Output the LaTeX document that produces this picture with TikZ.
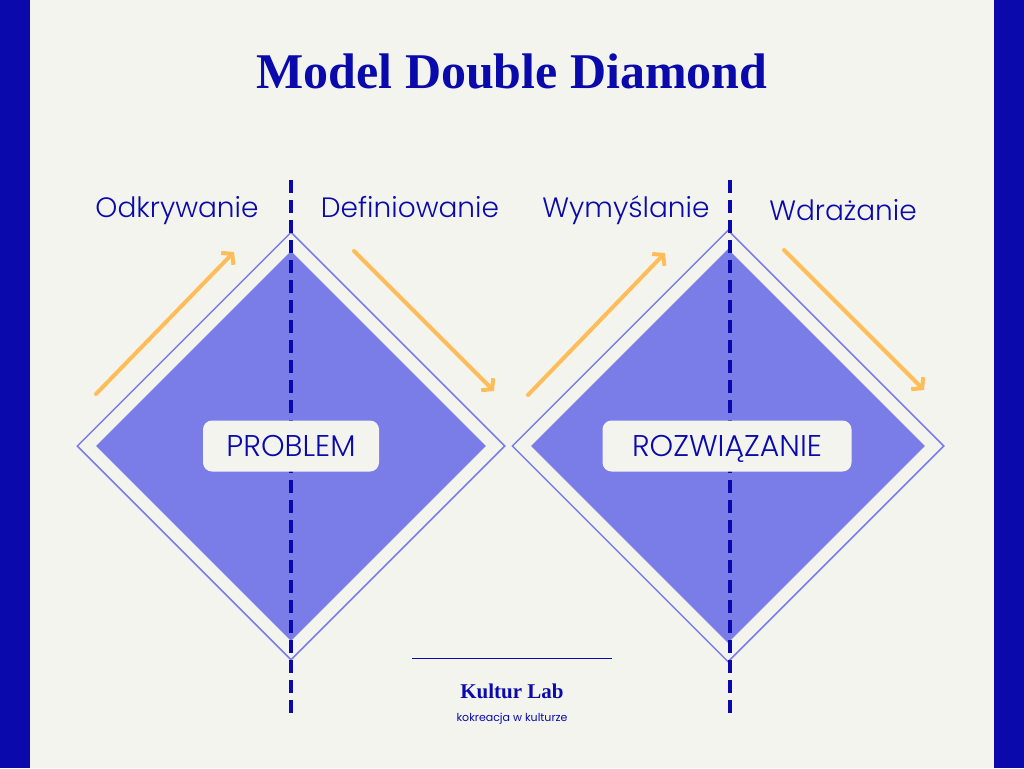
\documentclass[tikz,border=0pt]{standalone}
\usepackage{fontspec}
\setmainfont{Poppins}
\IfFontExistsTF{Poppins Light}
  {\newfontfamily\phasefont{Poppins Light}}
  {\newfontfamily\phasefont{Poppins}}
\newfontfamily\titlefont{Liberation Serif}
\usetikzlibrary{arrows.meta,shapes.geometric,positioning,calc}
\definecolor{bg}{RGB}{244,244,239}
\definecolor{navy}{RGB}{10,10,172}
\definecolor{dfill}{RGB}{122,125,232}
\definecolor{dline}{RGB}{122,125,232}
\definecolor{arrc}{RGB}{255,189,89}
\tikzset{
  dmd/.style={diamond,aspect=1,inner sep=0pt,minimum width=#1,minimum height=#1},
  outerd/.style={dmd=#1,draw=dline,line width=1.5pt},
  innerd/.style={dmd=#1,fill=dfill},
  lbl/.style={text=navy,anchor=base,inner sep=0pt,
    font=\phasefont\fontsize{28}{32}\selectfont},
  tag/.style={rectangle,rounded corners=9pt,fill=bg,text=navy,
    minimum width=#1,minimum height=51pt,inner sep=0pt,
    text height=21pt,text depth=0pt,
    font=\phasefont\fontsize{30}{34}\selectfont},
  tag/.default=176pt,
  arr/.style={-{Straight Barb[length=7pt,width=17pt]},line width=4pt,
    color=arrc,line cap=round},
  axisline/.style={draw=navy,line width=4pt,dash pattern=on 13pt off 7pt},
}
\begin{document}
\begin{tikzpicture}[x=1pt,y=-1pt]
    % page
    \fill[bg] (0,0) rectangle (1024,768);
    \fill[navy] (0,0) rectangle (30,768);
    \fill[navy] (994,0) rectangle (1024,768);
    \useasboundingbox (0,0) rectangle (1024,768);

    \node[text=navy,font=\titlefont\bfseries\fontsize{50}{56}\selectfont,anchor=base]
      (title) at (512,88) {Model Double Diamond};

    % two diamonds
    \node[outerd=428pt] (o1) at (291,446) {};
    \node[innerd=390pt] (d1) at (291,446) {};
    \node[outerd=432pt] (o2) at (728,446) {};
    \node[innerd=394pt] (d2) at (728,446) {};

    % phase dividers
    \coordinate (t1) at (291,180);
    \coordinate (b1) at (291,715);
    \coordinate (t2) at (730,180);
    \coordinate (b2) at (730,715);
    \draw[axisline] (t1) -- (b1);
    \draw[axisline] (t2) -- (b2);

    \node[tag] (prob) at (291,446) {PROBLEM};
    \node[tag=249pt] (sol) at (727,446) {ROZWIĄZANIE};

    % phase labels
    \node[lbl] (odk) at (177,217) {Odkrywanie};
    \node[lbl] (def) at (410,217) {Definiowanie};
    \node[lbl] (wym) at (626,217) {Wymyślanie};
    \node[lbl] (wdr) at (843,220) {Wdrażanie};

    % flow arrows
    \coordinate (a1s) at (96,394);   \coordinate (a1e) at (234,252);
    \coordinate (a2s) at (354,251);  \coordinate (a2e) at (494,391);
    \coordinate (a3s) at (528,395);  \coordinate (a3e) at (665,253);
    \coordinate (a4s) at (784,250);  \coordinate (a4e) at (924,390);
    \draw[arr] (a1s) -- (a1e);
    \draw[arr] (a2s) -- (a2e);
    \draw[arr] (a3s) -- (a3e);
    \draw[arr] (a4s) -- (a4e);

    % footer
    \coordinate (fl) at (412,658);
    \coordinate (fr) at (612,658);
    \draw[navy,line width=1pt] (fl) -- (fr);
    \node[text=navy,font=\titlefont\bfseries\fontsize{21}{24}\selectfont,anchor=base]
      (brand) at (512,698) {Kultur Lab};
    \node[text=navy,font=\fontsize{11}{13}\selectfont,anchor=base]
      (motto) at (512,721) {kokreacja w kulturze};
  \end{tikzpicture}
\end{document}
